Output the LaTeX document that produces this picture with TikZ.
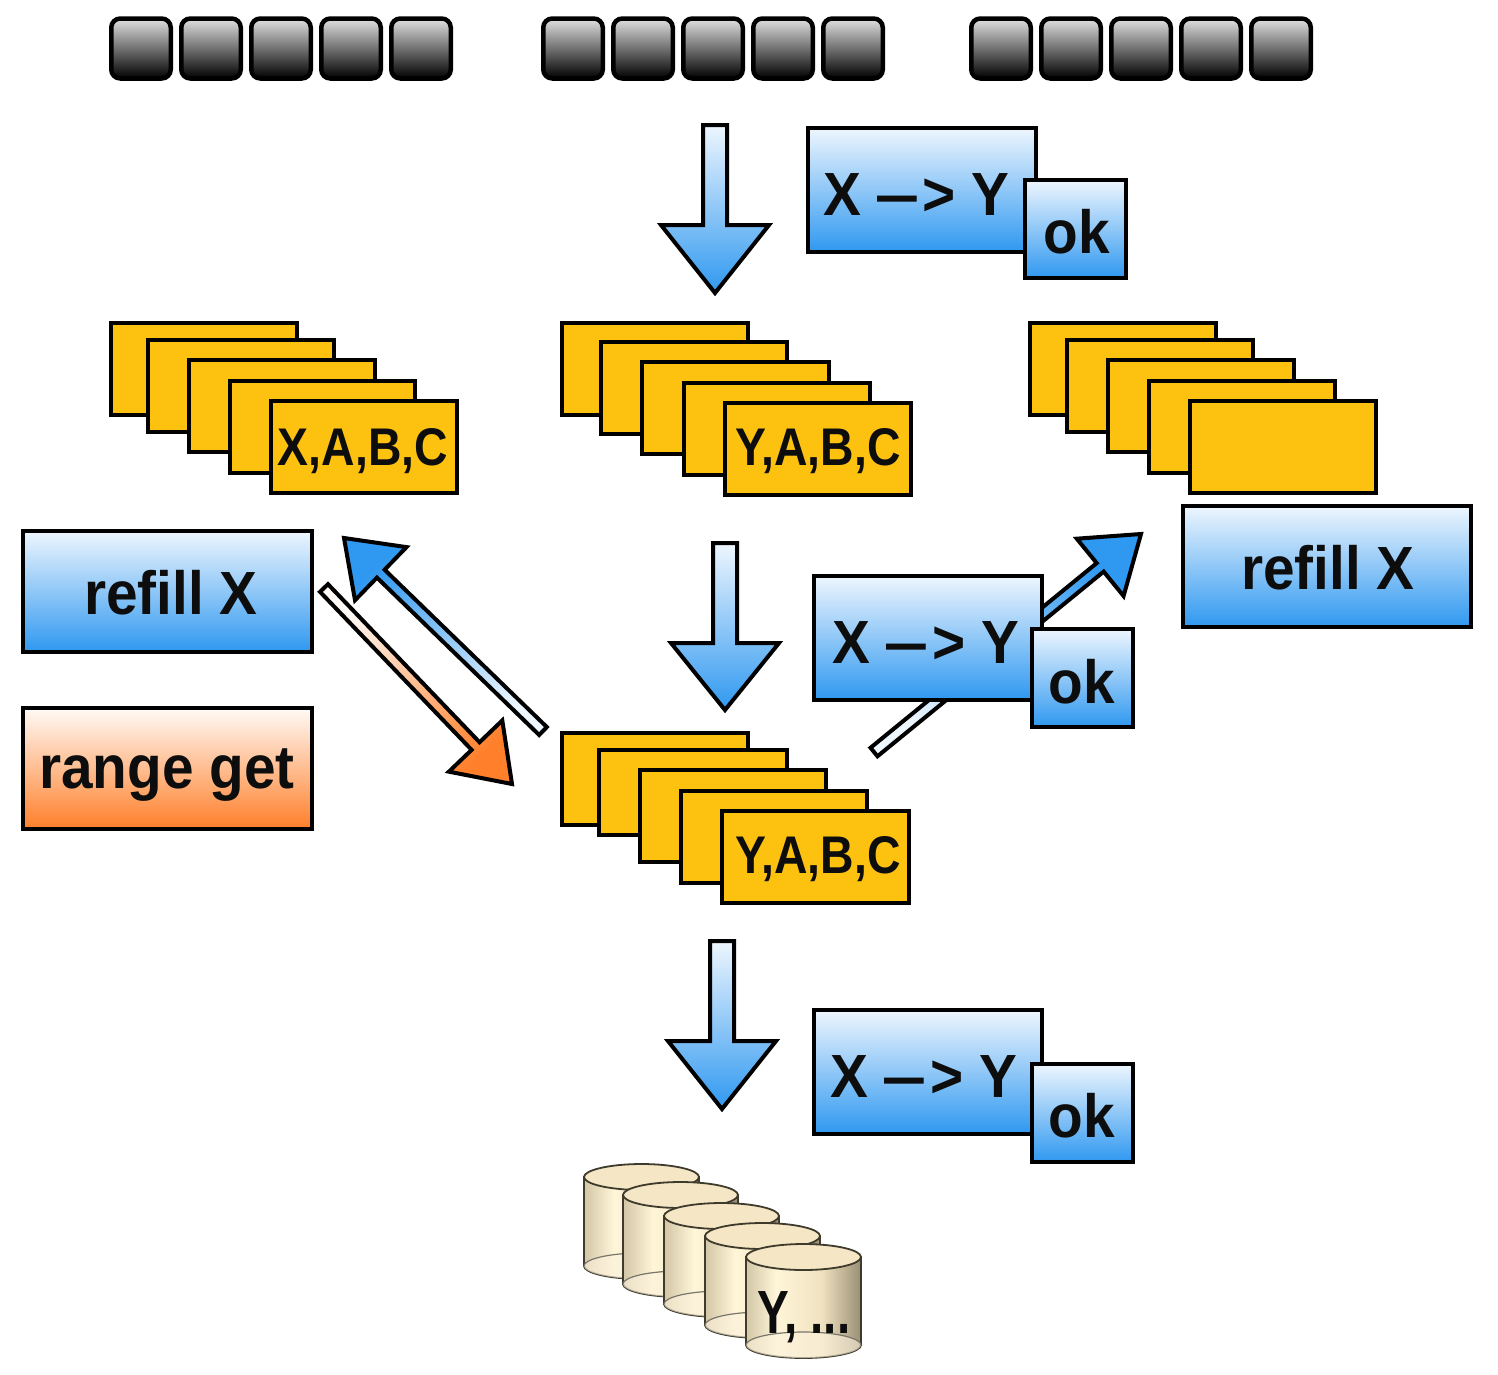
\documentclass[tikz,border=0pt]{standalone}
\usepackage{graphicx}
\usepackage{fontspec}
\setmainfont{Liberation Sans}[FakeStretch=0.93]
\newfontfamily\narrowf{Liberation Sans}[FakeStretch=0.875]
\usetikzlibrary{calc}
\definecolor{bluelo}{HTML}{2F98F0}
\definecolor{bluehi}{HTML}{EEF6FE}
\definecolor{orangelo}{HTML}{FF7F2A}
\definecolor{orangehi}{HTML}{FFFAF6}
\definecolor{yellowbox}{HTML}{FDC210}
\definecolor{cylline}{HTML}{3E3A2C}
\definecolor{cyltop}{HTML}{F5E6C6}
\definecolor{cylin}{HTML}{FCF2DC}
\definecolor{cyla}{HTML}{D2C6A6}
\definecolor{cylb}{HTML}{FFF5D8}
\definecolor{cylc}{HTML}{F0E2C0}
\definecolor{cyld}{HTML}{9A8F75}
\pgfdeclarehorizontalshading{cylbody}{100bp}{color(0bp)=(cyla); color(25bp)=(cyla); color(38bp)=(cylb); color(58bp)=(cylc); color(75bp)=(cyld); color(100bp)=(cyld)}
\tikzset{
  outlined/.style={draw=black,line width=4pt,sharp corners,inner sep=0pt,outer sep=0pt},
  bluebox/.style={outlined,top color=bluehi,bottom color=bluelo},
  orangebox/.style={outlined,top color=orangehi,bottom color=orangelo},
  yellowcard/.style={outlined,fill=yellowbox},
  key/.style={draw=black,line width=4.5pt,rounded corners=9pt,top color=black!12,bottom color=black,inner sep=0pt,outer sep=0pt,minimum width=59.5pt,minimum height=60pt},
  bigtext/.style={font=\bfseries\fontsize{61}{61}\selectfont,inner sep=0pt,anchor=base,text=black!95},
  cardtext/.style={font=\narrowf\bfseries\fontsize{53}{53}\selectfont,inner sep=0pt,anchor=base,text=black!95},
  blockarrow/.style={draw=black,line width=4pt,miter limit=10,line join=miter},
}
\newcommand{\rbox}[6]{\node[#6,minimum width={#4-#2},minimum height={abs(#5-#3)}] (#1) at ({(#2+#4)/2},{(#3+#5)/2}) {};}
\newcommand{\barrow}[6]{% from, to, style, base distance, shaft half, head half
  \coordinate (h#1#2) at ($(#1)!#4pt!(#2)$);
  \path[blockarrow,#3] ($(#1)!#5pt!90:(#2)$) -- ($(h#1#2)!#5pt!90:(#2)$) -- ($(h#1#2)!#6pt!90:(#2)$) -- (#2) -- ($(h#1#2)!#6pt!-90:(#2)$) -- ($(h#1#2)!#5pt!-90:(#2)$) -- ($(#1)!#5pt!-90:(#2)$) -- cycle;}
\newcommand{\cyl}[5]{% left, right, top cy, bottom cy, name
  \pgfmathsetmacro{\cx}{(#1+#2)/2}\pgfmathsetmacro{\rx}{(#2-#1)/2}
  \coordinate (#5) at (\cx,#3);
  \path[shading=cylbody,draw=cylline,line width=1.8pt] (#1,#3) -- (#1,#4) .. controls (#1,#4+7) and ({\cx-\rx*0.55},#4+13) .. (\cx,#4+13) .. controls ({\cx+\rx*0.55},#4+13) and (#2,#4+7) .. (#2,#4) -- (#2,#3) -- cycle;
  \path[fill=cylin,opacity=.6] (#1,#4) .. controls (#1,#4+7) and ({\cx-\rx*0.55},#4+13) .. (\cx,#4+13) .. controls ({\cx+\rx*0.55},#4+13) and (#2,#4+7) .. (#2,#4) .. controls (#2,#4-7) and ({\cx+\rx*0.55},#4-13) .. (\cx,#4-13) .. controls ({\cx-\rx*0.55},#4-13) and (#1,#4-7) .. (#1,#4) -- cycle;
  \path[draw=cylline!70,line width=1.2pt] (#1,#4) .. controls (#1,#4-7) and ({\cx-\rx*0.55},#4-13) .. (\cx,#4-13) .. controls ({\cx+\rx*0.55},#4-13) and (#2,#4-7) .. (#2,#4);
  \path[fill=cyltop,draw=cylline,line width=1.8pt] (#1,#3) .. controls (#1,#3+7) and ({\cx-\rx*0.55},#3+13) .. (\cx,#3+13) .. controls ({\cx+\rx*0.55},#3+13) and (#2,#3+7) .. (#2,#3) .. controls (#2,#3-7) and ({\cx+\rx*0.55},#3-13) .. (\cx,#3-13) .. controls ({\cx-\rx*0.55},#3-13) and (#1,#3-7) .. (#1,#3) -- cycle;
}
\newcommand{\mapping}{X \scalebox{.7}[1]{—}\kern6pt> Y}
\begin{document}
\begin{tikzpicture}[x=1pt,y=-1pt]
\useasboundingbox[fill=white] (0,0) rectangle (1498,1374);

% key rows
\foreach \i/\cx in {a1/141,a2/211,a3/281,a4/351,a5/421,b1/573,b2/643,b3/713,b4/783,b5/853,c1/1001,c2/1071,c3/1141,c4/1211,c5/1281}
  \node[key] (key\i) at (\cx,48.5) {};

% arrow anchors
\coordinate (t1) at (715,125); \coordinate (p1) at (715,293);
\coordinate (t2) at (725,543); \coordinate (p2) at (725,710);
\coordinate (t3) at (722,941); \coordinate (p3) at (722,1109);
\coordinate (t4) at (543,731); \coordinate (p4) at (344,538);
\coordinate (t5) at (324,588); \coordinate (p5) at (512,784);
\coordinate (t6) at (874,752); \coordinate (p6) at (1141,534);

\barrow{t1}{p1}{top color=bluehi,bottom color=bluelo}{100}{12}{54}
\barrow{t2}{p2}{top color=bluehi,bottom color=bluelo}{100}{12}{54}
\barrow{t3}{p3}{top color=bluehi,bottom color=bluelo}{100}{12}{54}
\barrow{t4}{p4}{top color=bluehi,bottom color=bluelo,shading angle=225}{226}{5.5}{37}
\barrow{t5}{p5}{top color=orangehi,bottom color=orangelo,shading angle=45}{219}{5.5}{37}
\barrow{t6}{p6}{top color=bluehi,bottom color=bluelo,shading angle=128}{292}{5.5}{37}

% X -> Y boxes
\rbox{map1}{808}{128}{1036}{252}{bluebox}
\node[bigtext] (map1t) at (916.5,215) {\mapping};
\rbox{ok1}{1025}{180}{1126}{278}{bluebox}
\node[bigtext] (ok1t) at (1077,253) {ok};
\rbox{map2}{814}{576}{1042}{700}{bluebox}
\node[bigtext] (map2t) at (926,663) {\mapping};
\rbox{ok2}{1032}{629}{1133}{727}{bluebox}
\node[bigtext] (ok2t) at (1082,703) {ok};
\rbox{map3}{814}{1010}{1042}{1134}{bluebox}
\node[bigtext] (map3t) at (924,1097) {\mapping};
\rbox{ok3}{1032}{1064}{1133}{1162}{bluebox}
\node[bigtext] (ok3t) at (1082,1137) {ok};

% stacks
\rbox{s1a}{111}{323}{297}{415}{yellowcard}
\rbox{s1b}{148}{340}{334}{432}{yellowcard}
\rbox{s1c}{189}{360}{375}{452}{yellowcard}
\rbox{s1d}{230}{381}{415}{473}{yellowcard}
\rbox{s1e}{271}{401}{457}{493}{yellowcard}
\node[cardtext] (s1t) at (363,465) {X,A,B,C};

\rbox{s2a}{562}{323}{748}{415}{yellowcard}
\rbox{s2b}{601}{342}{787}{434}{yellowcard}
\rbox{s2c}{642}{362}{829}{454}{yellowcard}
\rbox{s2d}{684}{383}{870}{475}{yellowcard}
\rbox{s2e}{725}{403}{911}{495}{yellowcard}
\node[cardtext] (s2t) at (818,465) {Y,A,B,C};

\rbox{s3a}{1030}{323}{1216}{415}{yellowcard}
\rbox{s3b}{1067}{340}{1253}{432}{yellowcard}
\rbox{s3c}{1108}{360}{1294}{452}{yellowcard}
\rbox{s3d}{1149}{381}{1335}{473}{yellowcard}
\rbox{s3e}{1190}{401}{1376}{493}{yellowcard}

\rbox{s4a}{562}{733}{748}{825}{yellowcard}
\rbox{s4b}{599}{750}{787}{835}{yellowcard}
\rbox{s4c}{640}{770}{826}{862}{yellowcard}
\rbox{s4d}{681}{791}{867}{883}{yellowcard}
\rbox{s4e}{722}{811}{909}{903}{yellowcard}
\node[cardtext] (s4t) at (818,873) {Y,A,B,C};

% legends
\rbox{refillL}{23}{531}{312}{652}{bluebox}
\node[bigtext] (refillLt) at (171,614) {refill X};
\rbox{range}{23}{708}{312}{829}{orangebox}
\node[bigtext] (ranget) at (167,788) {range get};
\rbox{refillR}{1183}{506}{1471}{627}{bluebox}
\node[bigtext] (refillRt) at (1328,589) {refill X};

% cylinders
\cyl{584}{699}{1177}{1266}{c1}
\cyl{623}{738}{1195}{1284}{c2}
\cyl{664}{779}{1216}{1304}{c3}
\cyl{705}{820}{1236}{1325}{c4}
\cyl{746}{861}{1257}{1345}{c5}
\node[bigtext] (c5t) at (804,1333) {\scalebox{.84}[1]{Y, ...}};
\end{tikzpicture}
\end{document}
